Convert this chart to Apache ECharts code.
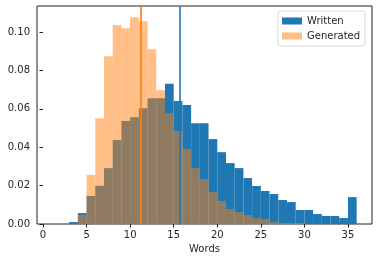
<!DOCTYPE html>
<html>
<head>
<meta charset="utf-8">
<script src="https://cdn.jsdelivr.net/npm/echarts@6/dist/echarts.min.js"></script>
<style>html,body{margin:0;padding:0;background:#fff}#c{width:378px;height:262px}</style>
</head>
<body>
<div id="c"></div>
<script>
// bin start edges (bin width 1 word)
const binStarts = [3,4,5,6,7,8,9,10,11,12,13,14,15,16,17,18,19,20,21,22,23,24,25,26,27,28,29,30,31,32,33,34,35];
const written = [0.001,0.0057,0.0146,0.0199,0.0291,0.0437,0.0536,0.0556,0.0603,0.0655,0.0655,0.073,0.064,0.0619,0.0525,0.0525,0.0442,0.0374,0.0317,0.0291,0.0239,0.0198,0.0172,0.0156,0.0125,0.0114,0.0073,0.0073,0.0052,0.0042,0.0042,0.0031,0.014];
const generated = [0,0.0048,0.0255,0.0551,0.0873,0.1036,0.1019,0.1076,0.1055,0.091,0.0697,0.0577,0.0484,0.039,0.0291,0.0234,0.0166,0.012,0.0078,0.0062,0.0047,0.0031,0.0026,0.001,0.0005,0.0005,0.0005,0,0,0,0,0,0];
const writtenMean = 15.72;
const generatedMean = 11.23;
const xTicks = [0,5,10,15,20,25,30,35];
const yTicks = [0,0.02,0.04,0.06,0.08,0.10];
const seriesNames = ['Written','Generated'];

const FONT = 'DejaVu Sans';
const BLUE = '#1f77b4';
const ORANGE_A = 'rgba(255,127,14,0.5)';

function histSeries(name, vals, color) {
  return {
    name: name,
    type: 'custom',
    itemStyle: {color: color},
    encode: {x: 0, y: 1},
    clip: true,
    data: binStarts.map((b, i) => [b, vals[i]]),
    renderItem: function (params, api) {
      const x0 = api.value(0), h = api.value(1);
      const p0 = api.coord([x0, 0]);
      const p1 = api.coord([x0 + 1, h]);
      return {
        type: 'rect',
        shape: {x: p0[0], y: p1[1], width: p1[0] - p0[0], height: p0[1] - p1[1]},
        style: {fill: color}
      };
    }
  };
}

const chart = echarts.init(document.getElementById('c'));
chart.setOption({
  animation: false,
  backgroundColor: '#fff',
  grid: {left: 37, right: 6, top: 6, bottom: 38, show: true, borderColor: '#222', borderWidth: 1, backgroundColor: 'transparent'},
  legend: {
    data: seriesNames,
    orient: 'vertical',
    left: 278, top: 11,
    icon: 'rect',
    itemWidth: 20, itemHeight: 7, itemGap: 3,
    padding: [4, 5, 4, 4],
    backgroundColor: '#fff',
    borderColor: '#d8d8d8', borderWidth: 1, borderRadius: 3,
    textStyle: {fontFamily: FONT, fontSize: 10, color: '#262626', lineHeight: 12}
  },
  xAxis: {
    type: 'value', min: -0.69, max: 37.76,
    name: 'Words', nameLocation: 'middle', nameGap: 19,
    nameTextStyle: {fontFamily: FONT, fontSize: 10, color: '#262626'},
    splitLine: {show: false},
    axisLine: {show: false},
    axisTick: {show: true, length: 3.5, lineStyle: {color: '#222'}, customValues: xTicks},
    axisLabel: {fontFamily: FONT, fontSize: 10, color: '#262626', margin: 6, customValues: xTicks, formatter: v => String(v)}
  },
  yAxis: {
    type: 'value', min: 0, max: 0.1135,
    splitLine: {show: false},
    axisLine: {show: false},
    axisTick: {show: true, length: 3.5, lineStyle: {color: '#222'}, customValues: yTicks},
    axisLabel: {fontFamily: FONT, fontSize: 10, color: '#262626', margin: 7, customValues: yTicks, formatter: v => v.toFixed(2)}
  },
  series: [
    histSeries(seriesNames[0], written, BLUE),
    histSeries(seriesNames[1], generated, ORANGE_A),
    {
      type: 'line', name: 'means', data: [], z: 10,
      markLine: {
        silent: true, symbol: 'none', label: {show: false}, animation: false,
        data: [
          {xAxis: writtenMean, lineStyle: {color: 'rgba(31,119,180,0.8)', width: 2, type: 'solid'}},
          {xAxis: generatedMean, lineStyle: {color: 'rgba(255,127,14,0.85)', width: 2, type: 'solid'}}
        ]
      }
    }
  ]
});
</script>
</body>
</html>
